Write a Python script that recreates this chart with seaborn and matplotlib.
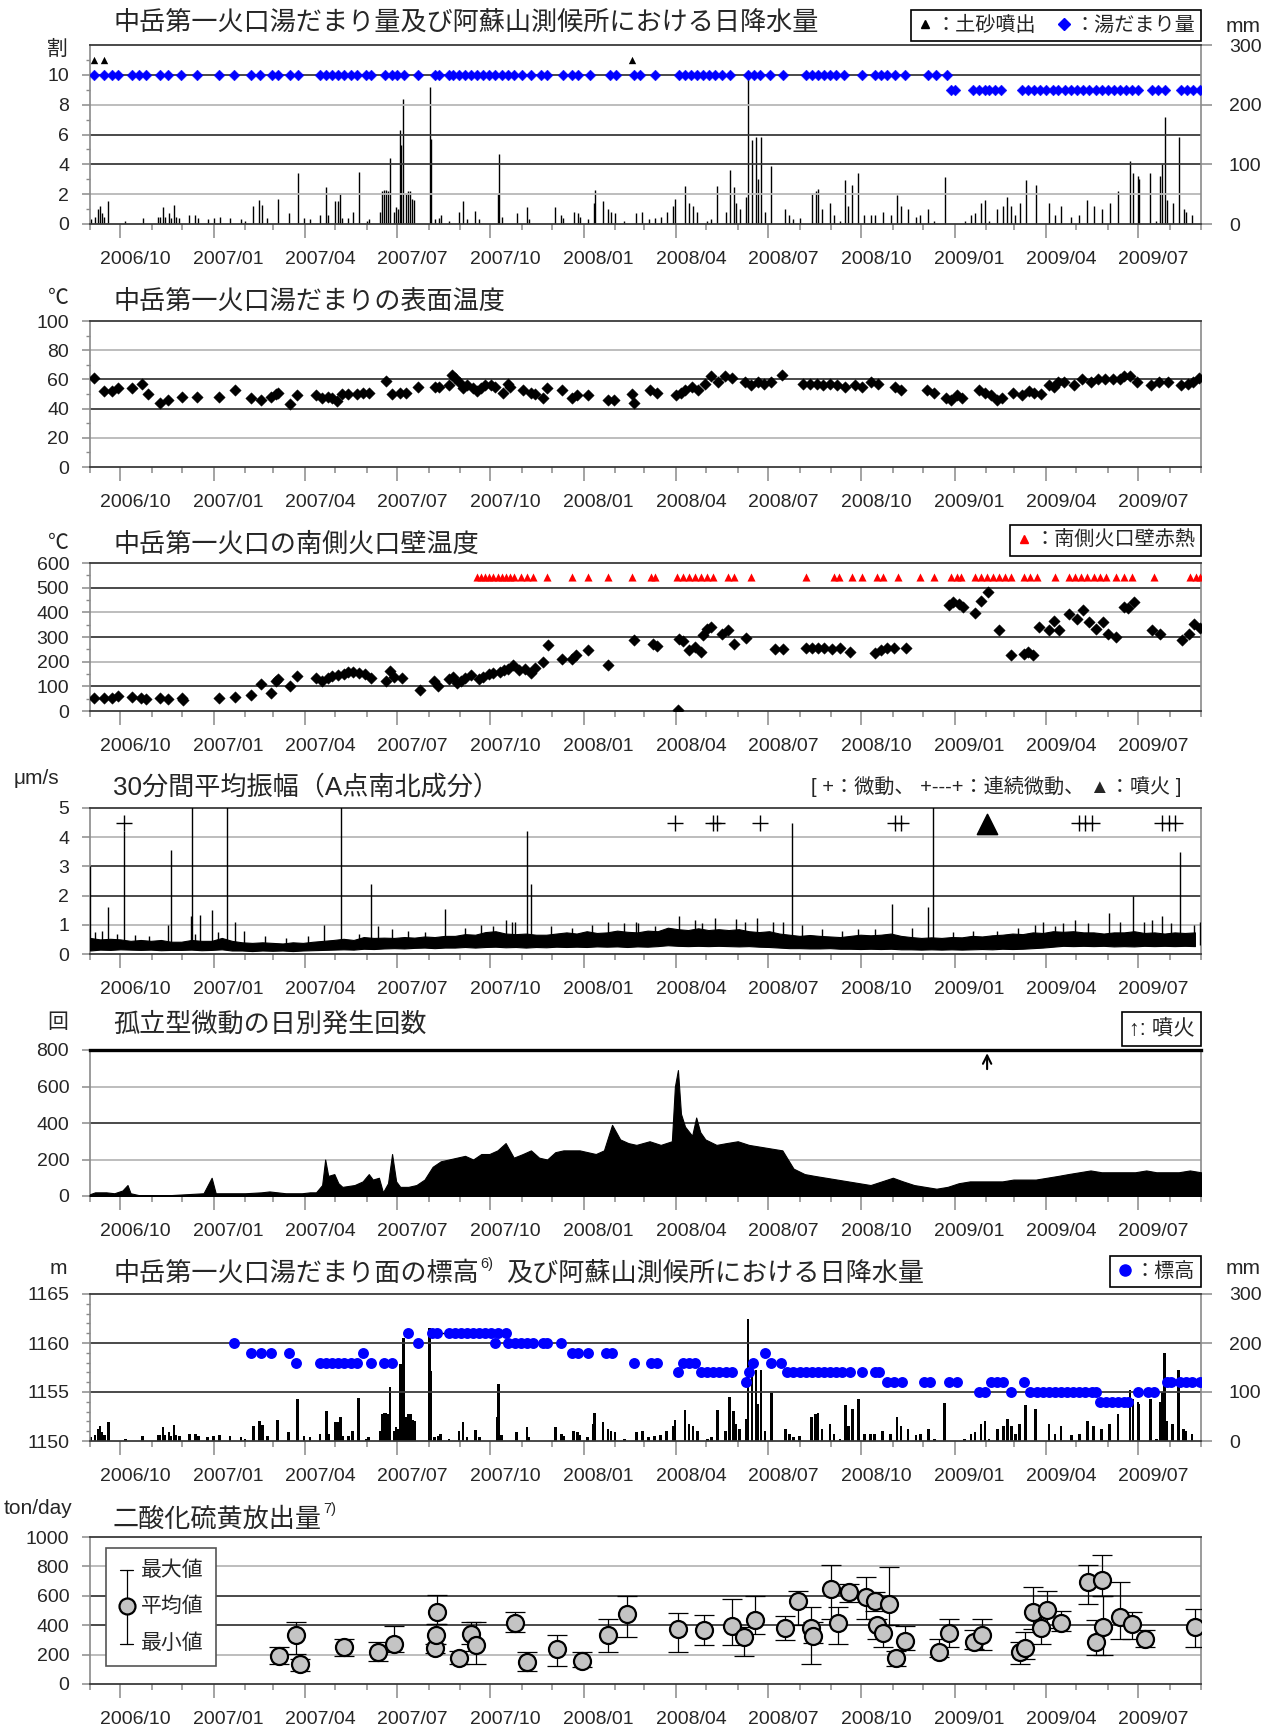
import numpy as np
import pandas as pd
import matplotlib
matplotlib.use("Agg")
import matplotlib.pyplot as plt
import matplotlib.dates as mdates
from matplotlib.lines import Line2D
from matplotlib.patches import Rectangle
from matplotlib.transforms import ScaledTranslation
import seaborn as sns

# All day numbers below are counted from 2006-09-01.

# Daily precipitation at the Aso observatory (day, mm)
rain = [(1, 8), (5, 12), (8, 25), (10, 30), (12, 18), (14, 12), (18, 38), (35, 5), (52, 10),
        (67, 12), (69, 12), (72, 28), (74, 12), (78, 18), (80, 10), (83, 32), (85, 12), (88, 10),
        (98, 15), (104, 15), (107, 10), (116, 8), (122, 10), (128, 12), (138, 10), (149, 8),
        (153, 5), (161, 30), (167, 40), (170, 32), (175, 10), (185, 42), (196, 18), (205, 85),
        (211, 10), (217, 8), (227, 15), (233, 62), (235, 15), (242, 38), (245, 38), (247, 50),
        (249, 10), (255, 10), (259, 20), (265, 87), (273, 5), (275, 8), (286, 20), (288, 55),
        (290, 57), (292, 57), (294, 55), (296, 110), (300, 20), (302, 28), (304, 25), (306, 157),
        (307, 132), (309, 210), (312, 50), (314, 55), (316, 55), (318, 42), (320, 40), (335, 230),
        (336, 143), (340, 8), (344, 10), (346, 15), (354, 5), (364, 20), (368, 38), (372, 8),
        (380, 22), (384, 8), (402, 50), (403, 117), (406, 12), (421, 18), (431, 28), (433, 8),
        (459, 28), (465, 15), (467, 10), (477, 20), (481, 18), (483, 12), (491, 8), (497, 35),
        (498, 57), (506, 38), (511, 25), (514, 20), (518, 18), (527, 5), (539, 18), (545, 20),
        (551, 8), (557, 10), (563, 12), (569, 20), (575, 30), (577, 42), (587, 63), (591, 35),
        (595, 30), (599, 20), (609, 5), (613, 8), (619, 63), (627, 20), (631, 90), (635, 62),
        (637, 35), (641, 25), (647, 45), (649, 250), (653, 140), (657, 145), (659, 75), (662, 145),
        (666, 20), (672, 97), (686, 25), (690, 15), (694, 8), (700, 10), (712, 50), (716, 55),
        (718, 58), (722, 25), (730, 35), (734, 15), (740, 5), (745, 73), (748, 30), (752, 65),
        (758, 85), (764, 15), (770, 15), (774, 15), (782, 20), (790, 15), (796, 48), (800, 30),
        (807, 25), (815, 12), (819, 15), (827, 25), (833, 5), (843, 78), (863, 5), (869, 15),
        (873, 18), (879, 35), (883, 40), (887, 5), (895, 25), (901, 30), (905, 45), (909, 30),
        (913, 15), (917, 35), (923, 73), (933, 65), (946, 35), (952, 15), (958, 30), (968, 12),
        (976, 15), (984, 40), (990, 30), (998, 25), (1006, 35), (1014, 55), (1026, 105),
        (1029, 85), (1034, 80), (1035, 75), (1046, 85), (1052, 5), (1056, 80), (1058, 100),
        (1060, 180), (1062, 40), (1068, 35), (1074, 145), (1079, 25), (1081, 20), (1087, 15)]

# Crater lake water amount (tenths of the full crater)
lake_day = [4, 14, 22, 28, 41, 48, 55, 69, 77, 90, 106, 127, 142, 159, 168, 180, 185, 197, 205, 227,
            233, 239, 245, 251, 257, 263, 272, 277, 291, 298, 303, 310, 324, 340, 344, 354, 358, 364,
            370, 376, 382, 388, 394, 400, 406, 412, 418, 426, 435, 445, 451, 467, 475, 481, 493, 513,
            519, 537, 543, 557, 581, 587, 593, 599, 605, 611, 617, 623, 631, 649, 655, 661, 671, 684,
            706, 712, 718, 724, 730, 736, 744, 762, 774, 780, 786, 794, 804, 827, 835, 845,
            849, 853, 871, 877, 883, 887, 893, 899, 919, 925, 931, 937, 943, 950, 955, 962, 968, 974,
            980, 986, 992, 998, 1004, 1010, 1016, 1022, 1028, 1034, 1048, 1054, 1060, 1076, 1082,
            1088, 1095]
lake_amount = [10] * 90 + [9] * 35
ejecta_day = [4, 14, 535]          # mud / sediment ejections

# Crater lake surface temperature (day, deg C)
surface_temp = [(4, 61), (14, 52), (22, 52), (28, 54), (41, 54), (51, 57), (57, 50), (69, 44), (77, 46),
                (91, 48), (106, 48), (127, 48), (143, 53), (159, 47), (169, 46), (179, 48), (183, 50),
                (185, 51), (197, 43), (204, 49), (223, 49), (229, 47), (235, 48), (239, 47), (244, 45),
                (249, 50), (255, 50), (263, 50), (269, 51), (275, 51), (292, 59), (298, 50), (306, 51),
                (312, 51), (324, 55), (340, 55), (344, 55), (354, 56), (357, 63), (360, 61), (364, 58),
                (368, 54), (372, 56), (378, 54), (382, 52), (386, 54), (390, 56), (396, 56), (400, 55),
                (407, 51), (412, 57), (414, 55), (427, 53), (435, 51), (439, 50), (447, 47), (451, 54),
                (466, 53), (475, 47), (480, 49), (491, 49), (511, 46), (517, 46), (535, 50), (537, 44),
                (552, 53), (559, 51), (578, 49), (583, 51), (587, 53), (594, 55), (600, 53), (607, 57),
                (613, 62), (620, 58), (626, 62), (633, 61), (646, 58), (652, 56), (659, 58), (665, 57),
                (672, 58), (683, 63), (703, 57), (710, 57), (717, 57), (723, 56), (730, 57), (737, 56),
                (745, 55), (755, 56), (762, 55), (770, 58), (777, 57), (794, 55), (800, 53), (826, 53),
                (833, 51), (844, 47), (849, 46), (855, 49), (860, 47), (877, 53), (883, 51), (889, 49),
                (895, 46), (900, 47), (911, 51), (919, 49), (926, 52), (931, 51), (938, 50), (946, 56),
                (951, 55), (955, 58), (961, 58), (971, 56), (979, 60), (987, 58), (994, 60), (1001, 60),
                (1009, 60), (1016, 60), (1020, 62), (1026, 62), (1033, 58), (1047, 56), (1055, 58),
                (1063, 58), (1076, 56), (1083, 57), (1088, 58), (1094, 61)]

# South crater wall temperature (day, deg C)
wall_temp = [(4, 53), (14, 54), (22, 54), (28, 61), (41, 57), (50, 53), (55, 47), (69, 54), (77, 50),
             (91, 53), (92, 43), (127, 53), (143, 57), (159, 66), (169, 109), (179, 71), (183, 121),
             (185, 129), (197, 100), (204, 141), (223, 132), (229, 121), (235, 132), (239, 141),
             (245, 147), (251, 152), (255, 159), (259, 159), (265, 155), (271, 152), (277, 132),
             (292, 121), (296, 163), (300, 138), (308, 134), (326, 87), (339, 121), (343, 100),
             (354, 128), (358, 138), (362, 114), (366, 121), (370, 132), (376, 145), (384, 128),
             (388, 138), (394, 148), (398, 156), (404, 159), (408, 166), (412, 172), (417, 186),
             (423, 166), (429, 172), (435, 155), (439, 175), (447, 200), (452, 267), (466, 210),
             (475, 212), (479, 227), (491, 247), (511, 186), (537, 288), (555, 273), (559, 264),
             (580, 5), (581, 293), (585, 282), (591, 246), (597, 259), (603, 239), (605, 307),
             (609, 334), (613, 340), (623, 313), (629, 327), (635, 273), (647, 296), (676, 250),
             (684, 250), (706, 255), (712, 255), (718, 255), (724, 255), (732, 253), (740, 255),
             (750, 239), (774, 235), (780, 246), (786, 255), (793, 255), (805, 255), (847, 428),
             (851, 442), (857, 435), (861, 422), (873, 399), (879, 446), (886, 484), (897, 327),
             (909, 226), (921, 232), (925, 239), (930, 226), (936, 340), (946, 327), (951, 363),
             (956, 327), (966, 394), (974, 374), (980, 408), (986, 360), (992, 334), (999, 360),
             (1004, 313), (1012, 300), (1020, 422), (1024, 418), (1030, 442), (1048, 327),
             (1056, 313), (1077, 286), (1084, 313), (1089, 354), (1095, 336)]
red_glow_day = [382, 386, 390, 394, 398, 402, 406, 410, 414, 418, 425, 431, 437, 451, 475, 491, 511,
                535, 553, 557, 579, 585, 591, 597, 603, 609, 615, 629, 635, 652, 706, 734, 739, 752,
                762, 776, 782, 797, 819, 833, 849, 855, 859, 873, 879, 885, 891, 897, 903, 909, 921,
                927, 934, 952, 966, 972, 978, 984, 990, 996, 1002, 1012, 1020, 1028, 1050, 1085,
                1091, 1095]

# 30-minute mean amplitude (station A, N-S): dense band sampled every 10 days, plus spikes
amp_day = np.arange(0, 1100, 10)
amp_upper = [0.55, 0.50, 0.52, 0.50, 0.45, 0.48, 0.45, 0.48, 0.42, 0.42, 0.48, 0.45,
             0.45, 0.55, 0.45, 0.40, 0.38, 0.40, 0.38, 0.36, 0.40, 0.38, 0.42, 0.45,
             0.48, 0.52, 0.48, 0.58, 0.55, 0.56, 0.55, 0.58, 0.56, 0.60, 0.58, 0.62,
             0.62, 0.68, 0.66, 0.75, 0.78, 0.70, 0.68, 0.70, 0.66, 0.66, 0.70, 0.74,
             0.70, 0.78, 0.72, 0.74, 0.80, 0.76, 0.74, 0.80, 0.78, 0.90, 0.85, 0.82,
             0.88, 0.82, 0.85, 0.82, 0.85, 0.78, 0.75, 0.78, 0.70, 0.66, 0.62, 0.65,
             0.62, 0.60, 0.58, 0.62, 0.66, 0.64, 0.66, 0.70, 0.62, 0.58, 0.55, 0.57,
             0.55, 0.58, 0.57, 0.62, 0.60, 0.64, 0.66, 0.70, 0.68, 0.74, 0.72, 0.78,
             0.76, 0.78, 0.74, 0.74, 0.70, 0.74, 0.74, 0.78, 0.72, 0.74, 0.70, 0.74,
             0.72, 0.74]
amp_lower = [0.12, 0.15, 0.14, 0.16, 0.15, 0.14, 0.15, 0.13, 0.14, 0.14, 0.15, 0.13,
             0.14, 0.16, 0.12, 0.12, 0.10, 0.12, 0.11, 0.12, 0.10, 0.12, 0.13, 0.14,
             0.15, 0.16, 0.15, 0.18, 0.17, 0.19, 0.20, 0.19, 0.21, 0.22, 0.20, 0.22,
             0.22, 0.24, 0.22, 0.24, 0.25, 0.23, 0.24, 0.22, 0.24, 0.23, 0.25, 0.24,
             0.25, 0.24, 0.26, 0.25, 0.26, 0.24, 0.26, 0.25, 0.27, 0.30, 0.28, 0.27,
             0.28, 0.27, 0.28, 0.27, 0.26, 0.27, 0.25, 0.24, 0.22, 0.20, 0.20, 0.19,
             0.19, 0.20, 0.18, 0.18, 0.17, 0.18, 0.17, 0.18, 0.16, 0.16, 0.15, 0.16,
             0.15, 0.16, 0.15, 0.16, 0.17, 0.16, 0.18, 0.17, 0.18, 0.20, 0.22, 0.25,
             0.28, 0.27, 0.28, 0.27, 0.28, 0.26, 0.27, 0.26, 0.28, 0.27, 0.28, 0.27,
             0.28, 0.27]
amp_spike = [(0, 3.0), (18, 1.6), (34, 4.2), (77, 1.0), (80, 3.55), (100, 1.3), (101, 5.5),
             (109, 1.35), (120, 1.5), (135, 5.5), (143, 1.1), (231, 1.0), (248, 5.5), (277, 2.4),
             (350, 1.55), (410, 1.15), (416, 1.1), (431, 4.2), (435, 2.4), (511, 1.1), (581, 1.3),
             (617, 1.25), (658, 1.25), (684, 1.1), (693, 4.5), (791, 1.7), (827, 1.6), (832, 5.5),
             (940, 1.1), (972, 1.15), (1005, 1.4), (1029, 2.0), (1048, 1.15), (1058, 1.3),
             (1075, 3.5), (1095, 1.1)]
# shorter bursts riding on top of the background band
amp_burst = [(5, 0.75), (12, 0.8), (27, 0.7), (44, 0.65), (58, 0.6), (104, 0.7), (126, 0.75),
             (152, 0.8), (173, 0.6), (193, 0.55), (215, 0.6), (265, 0.7), (284, 0.95), (298, 0.85),
             (314, 0.8), (330, 0.75), (370, 0.9), (386, 1.0), (398, 0.95), (419, 1.1), (455, 0.95),
             (475, 0.9), (495, 1.0), (527, 1.05), (539, 1.1), (541, 1.05), (557, 0.95), (597, 1.15),
             (604, 1.05), (637, 1.2), (646, 1.1), (674, 1.1), (702, 1.0), (722, 0.85), (742, 0.8),
             (758, 0.85), (774, 0.85), (811, 0.9), (851, 0.75), (871, 0.8), (895, 0.8), (915, 0.9),
             (932, 1.0), (952, 0.95), (960, 1.05), (985, 1.05), (1016, 1.1), (1040, 1.1),
             (1066, 1.05), (1089, 1.0)]
tremor_day = [34, 577, 615, 619, 661, 794, 800, 976, 982, 988, 1058, 1064, 1070]
eruption_date = "2009-02-02"

# Daily number of isolated tremors (day, count)
tremor_count = [(0, 10), (5, 20), (16, 20), (24, 15), (32, 30), (37, 60), (40, 15), (48, 5), (64, 5),
                (80, 5), (96, 10), (112, 15), (120, 100), (124, 15), (136, 15), (153, 15), (169, 20),
                (177, 25), (193, 15), (209, 15), (217, 20), (223, 20), (229, 60), (232, 200), (235, 110),
                (241, 120), (245, 70), (249, 50), (261, 60), (269, 80), (275, 120), (279, 90), (285, 100),
                (289, 20), (294, 70), (298, 230), (302, 80), (306, 50), (314, 50), (322, 60), (330, 90),
                (338, 160), (346, 190), (354, 200), (362, 210), (370, 220), (378, 200), (386, 230),
                (394, 230), (402, 250), (410, 290), (418, 210), (427, 230), (435, 250), (443, 210),
                (451, 200), (459, 240), (467, 250), (475, 250), (483, 250), (491, 240), (499, 230),
                (507, 250), (515, 390), (523, 310), (531, 290), (539, 280), (552, 300), (563, 280),
                (574, 300), (577, 600), (580, 690), (583, 450), (587, 380), (594, 330), (598, 430),
                (602, 350), (607, 310), (618, 280), (628, 290), (639, 300), (650, 280), (661, 270),
                (672, 260), (683, 250), (694, 150), (705, 120), (715, 110), (726, 100), (737, 90),
                (748, 80), (759, 70), (770, 60), (781, 80), (792, 100), (802, 80), (813, 60), (824, 50),
                (835, 40), (846, 50), (857, 70), (868, 80), (879, 80), (889, 80), (900, 80), (911, 90),
                (922, 90), (933, 90), (944, 100), (955, 110), (965, 120), (976, 130), (987, 140),
                (998, 130), (1009, 130), (1020, 130), (1031, 130), (1042, 140), (1052, 130),
                (1063, 130), (1074, 130), (1085, 140), (1096, 130)]

# Crater lake surface elevation (day, m)
lake_elev = [(142, 1160), (159, 1159), (169, 1159), (179, 1159), (196, 1159), (203, 1158), (227, 1158),
             (233, 1158), (239, 1158), (245, 1158), (251, 1158), (257, 1158), (263, 1158), (269, 1159),
             (277, 1158), (290, 1158), (298, 1158), (314, 1161), (324, 1160), (337, 1161), (342, 1161),
             (354, 1161), (360, 1161), (366, 1161), (372, 1161), (378, 1161), (384, 1161), (390, 1161),
             (396, 1161), (400, 1160), (402, 1161), (410, 1161), (412, 1160), (419, 1160), (425, 1160),
             (431, 1160), (437, 1160), (447, 1160), (451, 1160), (465, 1160), (475, 1159), (481, 1159),
             (491, 1159), (509, 1159), (515, 1159), (537, 1158), (553, 1158), (559, 1158), (580, 1157),
             (585, 1158), (591, 1158), (597, 1158), (603, 1157), (609, 1157), (615, 1157), (621, 1157),
             (627, 1157), (633, 1157), (647, 1156), (650, 1157), (654, 1158), (666, 1159), (672, 1158),
             (682, 1158), (688, 1157), (694, 1157), (700, 1157), (706, 1157), (712, 1157), (718, 1157),
             (724, 1157), (730, 1157), (736, 1157), (742, 1157), (750, 1157), (762, 1157), (774, 1157),
             (778, 1157), (786, 1156), (793, 1156), (801, 1156), (823, 1156), (829, 1156), (847, 1156),
             (855, 1156), (877, 1155), (883, 1155), (889, 1156), (895, 1156), (901, 1156), (909, 1155),
             (921, 1156), (927, 1155), (934, 1155), (940, 1155), (946, 1155), (952, 1155), (958, 1155),
             (964, 1155), (970, 1155), (976, 1155), (982, 1155), (988, 1155), (992, 1155), (996, 1154),
             (1002, 1154), (1008, 1154), (1014, 1154), (1020, 1154), (1024, 1154), (1034, 1155),
             (1044, 1155), (1050, 1155), (1062, 1156), (1066, 1156), (1075, 1156), (1081, 1156),
             (1087, 1156), (1095, 1156)]

# SO2 emission rate (ton/day): day, mean, max, min
so2_day = [186, 203, 207, 251, 284, 300, 340, 341, 342, 364, 376, 381, 419, 431, 461, 485, 511, 530,
           580, 606, 633, 645, 656, 686, 698, 711, 713, 731, 738, 749, 766, 774, 776, 782, 788, 795,
           804, 838, 847, 872, 880, 917, 922, 930, 938, 944, 958, 985, 992, 998, 999, 1016, 1028,
           1041, 1090]
so2_mean = [189, 330, 136, 250, 216, 273, 245, 330, 489, 175, 341, 266, 414, 152, 239, 159, 334, 477,
            375, 364, 393, 323, 436, 380, 568, 380, 325, 648, 414, 627, 591, 568, 398, 348, 545, 175,
            295, 220, 348, 289, 330, 216, 245, 489, 380, 505, 416, 693, 289, 709, 386, 459, 409, 307,
            386]
so2_max = [250, 425, 170, 307, 289, 393, 273, 409, 607, 227, 425, 425, 493, 216, 334, 216, 443, 602,
           482, 466, 580, 391, 602, 461, 636, 523, 420, 807, 523, 682, 727, 625, 443, 400, 795, 227,
           393, 307, 439, 364, 439, 284, 357, 659, 470, 632, 500, 807, 432, 880, 602, 693, 493, 364,
           507]
so2_min = [136, 205, 91, 193, 159, 216, 211, 273, 409, 136, 273, 136, 352, 91, 125, 114, 220, 318,
           220, 268, 268, 193, 341, 302, 398, 136, 280, 443, 273, 560, 443, 500, 307, 250, 398, 125,
           230, 182, 250, 239, 234, 136, 170, 375, 273, 384, 360, 545, 200, 602, 200, 307, 307, 250,
           250]

# ---------------------------------------------------------------------------
sns.set_theme(style="white")
plt.rcParams["font.family"] = ["Liberation Sans", "Noto Sans CJK JP", "DejaVu Sans"]
plt.rcParams["axes.unicode_minus"] = False

BASE = pd.Timestamp("2006-09-01")
END = pd.Timestamp("2009-09-01")


def on_days(days):
    return BASE + pd.to_timedelta(np.asarray(days, dtype=float), unit="D")


def split(pairs):
    a, b = zip(*pairs)
    return np.array(a), np.array(b)


W, H = 1268, 1727
fig = plt.figure(figsize=(W / 100, H / 100), dpi=100)
fig.patch.set_facecolor("white")
L_PX, R_PX = 90, 1201
DARK, LIGHT, FRAME = "#3a3a3a", "#b8b8b8", "#8a8a8a"
TICK_FS, TITLE_FS, UNIT_FS, LEG_FS = 14, 18.8, 15, 14.5


def add_panel(top, bottom):
    return fig.add_axes([L_PX / W, 1 - bottom / H, (R_PX - L_PX) / W, (bottom - top) / H])


def ftext(x, y, s, **kw):
    kw.setdefault("va", "center")
    return fig.text(x / W, 1 - y / H, s, **kw)


def style_panel(ax, ylim, yticks, yminor=None, dark=(), light=()):
    ax.set_xlim(BASE, END)
    ax.set_ylim(*ylim)
    ax.set_yticks(yticks)
    if yminor is not None:
        ax.set_yticks(yminor, minor=True)
    for v in dark:
        ax.axhline(v, color=DARK, lw=1.3, zorder=0.5)
    for v in light:
        ax.axhline(v, color=LIGHT, lw=1.3, zorder=0.5)
    for side in ("left", "right"):
        ax.spines[side].set_color(FRAME)
        ax.spines[side].set_linewidth(1.2)
    for side in ("top", "bottom"):
        ax.spines[side].set_color(DARK)
        ax.spines[side].set_linewidth(1.3)
    ax.xaxis.set_major_locator(mdates.MonthLocator(bymonth=[1, 4, 7, 10]))
    ax.xaxis.set_minor_locator(mdates.MonthLocator())
    ax.xaxis.set_major_formatter(mdates.DateFormatter("%Y/%m"))
    ax.tick_params(axis="x", which="major", bottom=True, direction="out", length=10, width=1.1,
                   color=FRAME, pad=9.5, labelsize=TICK_FS)
    ax.tick_params(axis="x", which="minor", bottom=True, direction="out", length=4, width=1.1,
                   color=FRAME)
    ax.tick_params(axis="y", which="major", left=True, direction="out", length=6, width=1.1,
                   color=FRAME, pad=9, labelsize=TICK_FS)
    ax.tick_params(axis="y", which="minor", left=True, direction="out", length=3, width=1.0,
                   color=FRAME)
    shift = ScaledTranslation(15 / 100, 0, fig.dpi_scale_trans)
    for lab in ax.get_xticklabels():
        lab.set_transform(lab.get_transform() + shift)
    ax.set_xlabel("")
    ax.set_ylabel("")


def style_right(axr, ylim, yticks):
    axr.set_ylim(*ylim)
    axr.set_yticks(yticks)
    for s in axr.spines.values():
        s.set_visible(False)
    axr.tick_params(axis="y", which="major", right=True, direction="out", length=8, width=1.1,
                    color=FRAME, pad=12, labelsize=TICK_FS)
    axr.set_ylabel("")


def box_legend(ax, handles, labels, anchor_y, **kw):
    leg = ax.legend(handles, labels, loc="lower right", bbox_to_anchor=(1.0, anchor_y),
                    frameon=True, fancybox=False, edgecolor="black", framealpha=1,
                    fontsize=LEG_FS, handlelength=0.8, handletextpad=0.1, columnspacing=1.0,
                    borderpad=0.3, borderaxespad=0, **kw)
    leg.get_frame().set_linewidth(1.2)
    return leg


def title(y, s):
    return ftext(113, y, s, fontsize=TITLE_FS)


rain_day, rain_mm = split(rain)

# ---- 1: crater lake amount and daily precipitation ----
ax1 = add_panel(45, 224)
ax1r = ax1.twinx()
ax1r.vlines(on_days(rain_day), 0, rain_mm, color="black", lw=1.0)
sns.scatterplot(x=on_days(lake_day), y=lake_amount, marker="D", s=30, color="#0000ff",
                edgecolor="#0000ff", linewidth=0.3, ax=ax1, legend=False, zorder=4)
sns.scatterplot(x=on_days(ejecta_day), y=np.full(len(ejecta_day), 11.0), marker="^", s=28,
                color="black", edgecolor="black", linewidth=0, ax=ax1, legend=False, zorder=4)
style_panel(ax1, (0, 12), range(0, 11, 2), range(1, 12, 2), dark=(4, 6, 10), light=(2, 8))
style_right(ax1r, (0, 300), [0, 100, 200, 300])
ax1.set_zorder(ax1r.get_zorder() + 1)
ax1.patch.set_visible(False)
box_legend(ax1, [Line2D([], [], marker="^", ls="", color="black", ms=6),
                 Line2D([], [], marker="D", ls="", color="#0000ff", ms=6)],
           ["：土砂噴出", "：湯だまり量"], 1.02, ncol=2)
title(23, "中岳第一火口湯だまり量及び阿蘇山測候所における日降水量")
ftext(57, 49, "割", fontsize=UNIT_FS, ha="center")
ftext(1243, 27, "mm", fontsize=UNIT_FS, ha="center")

# ---- 2: crater lake surface temperature ----
ax2 = add_panel(321, 467)
sd, sv = split(surface_temp)
sns.scatterplot(x=on_days(sd), y=sv, marker="D", s=34, color="black", edgecolor="black",
                linewidth=0.3, ax=ax2, legend=False, zorder=4)
style_panel(ax2, (0, 100), range(0, 101, 20), range(10, 100, 20), dark=(40, 60), light=(20, 80))
title(302, "中岳第一火口湯だまりの表面温度")
ftext(58, 298, "℃", fontsize=UNIT_FS, ha="center")

# ---- 3: south crater wall temperature ----
ax3 = add_panel(563, 711)
wd, wv = split(wall_temp)
sns.scatterplot(x=on_days(wd), y=wv, marker="D", s=34, color="black", edgecolor="black",
                linewidth=0.3, ax=ax3, legend=False, zorder=4)
sns.scatterplot(x=on_days(red_glow_day), y=np.full(len(red_glow_day), 545.0), marker="^", s=34,
                color="#ff0000", edgecolor="#ff0000", linewidth=0, ax=ax3, legend=False, zorder=4)
style_panel(ax3, (0, 600), range(0, 601, 100), range(50, 600, 100), dark=(100, 300, 500),
            light=(200, 400))
box_legend(ax3, [Line2D([], [], marker="^", ls="", color="#ff0000", ms=6)], ["：南側火口壁赤熱"], 1.045)
title(545, "中岳第一火口の南側火口壁温度")
ftext(58, 543, "℃", fontsize=UNIT_FS, ha="center")

# ---- 4: 30-minute mean amplitude ----
ax4 = add_panel(808, 954)
ax4.fill_between(on_days(amp_day), amp_lower, amp_upper, color="black", lw=0.8, zorder=3)
bd, bv = split(amp_burst)
ax4.vlines(on_days(bd), 0.3, bv, color="black", lw=1.0, zorder=3)
kd, kv = split(amp_spike)
ax4.vlines(on_days(kd), 0.3, kv, color="black", lw=1.0, zorder=3)
ax4.scatter(on_days(tremor_day), np.full(len(tremor_day), 4.5), marker="+", s=120, color="black",
            linewidths=1.0, zorder=4)
sns.scatterplot(x=pd.to_datetime([eruption_date]), y=[4.45], marker="^", s=210, color="black",
                edgecolor="black", ax=ax4, legend=False, zorder=4)
style_panel(ax4, (0, 5), range(0, 6), None, dark=(2, 3), light=(1, 4))
title(787, "30分間平均振幅（A点南北成分）")
ftext(36, 779, "μm/s", fontsize=UNIT_FS, ha="center")
ftext(1181, 786, "[ +：微動、 +---+：連続微動、 ▲：噴火 ]", fontsize=14.5, ha="right")

# ---- 5: daily number of isolated tremors ----
ax5 = add_panel(1050, 1196)
cd, cv = split(tremor_count)
ax5.fill_between(on_days(cd), 0, cv, color="black", lw=0.8, zorder=3)
ax5.annotate("", xy=(pd.Timestamp(eruption_date), 798), xytext=(pd.Timestamp(eruption_date), 680),
             arrowprops=dict(arrowstyle="->", color="black", lw=1.5, mutation_scale=15), zorder=5)
style_panel(ax5, (0, 800), range(0, 801, 200), None, dark=(400,), light=(200, 600))
ax5.spines["top"].set_linewidth(2.4)
ax5.spines["top"].set_color("black")
ax5.text(0.994, 1.075, "↑: 噴火", transform=ax5.transAxes, ha="right", va="bottom", fontsize=15.5,
         bbox=dict(boxstyle="square,pad=0.3", fc="white", ec="black", lw=1.2))
title(1024, "孤立型微動の日別発生回数")
ftext(58, 1023, "回", fontsize=UNIT_FS, ha="center")

# ---- 6: crater lake surface elevation and daily precipitation ----
ax6 = add_panel(1294, 1441)
ax6r = ax6.twinx()
ax6r.bar(on_days(rain_day), rain_mm, width=2.6, color="black", lw=0)
ed, ev = split(lake_elev)
run = (ed >= 337) & (ed <= 410) & (ev == 1161)
ax6.plot(on_days(ed[run]), ev[run], color="black", lw=1.0, zorder=3)
sns.scatterplot(x=on_days(ed), y=ev, marker="o", s=62, color="#0000ff", edgecolor="#0000ff",
                linewidth=0, ax=ax6, legend=False, zorder=4)
style_panel(ax6, (1150, 1165), [1150, 1155, 1160, 1165], range(1151, 1165), dark=(1155, 1160))
style_right(ax6r, (0, 300), [0, 100, 200, 300])
ax6.set_zorder(ax6r.get_zorder() + 1)
ax6.patch.set_visible(False)
box_legend(ax6, [Line2D([], [], marker="o", ls="", color="#0000ff", ms=8)], ["：標高"], 1.045)
t6 = title(1274, "中岳第一火口湯だまり面の標高")
ax6.annotate("6)", xy=(1, 0.62), xycoords=t6, xytext=(1, 0), textcoords="offset points",
             fontsize=10.5, va="bottom", ha="left")
ax6.annotate("及び阿蘇山測候所における日降水量", xy=(1, 0.5), xycoords=t6, xytext=(20, 0),
             textcoords="offset points", fontsize=TITLE_FS, va="center", ha="left")
ftext(58, 1268, "m", fontsize=UNIT_FS, ha="center")
ftext(1243, 1268, "mm", fontsize=UNIT_FS, ha="center")

# ---- 7: SO2 emission rate ----
ax7 = add_panel(1537, 1684)
so2_mean_a, so2_max_a, so2_min_a = map(np.array, (so2_mean, so2_max, so2_min))
ax7.errorbar(on_days(so2_day), so2_mean_a, yerr=[so2_mean_a - so2_min_a, so2_max_a - so2_mean_a],
             fmt="none", ecolor="black", elinewidth=0.9, capsize=7, capthick=0.9, zorder=3)
sns.scatterplot(x=on_days(so2_day), y=so2_mean_a, marker="o", s=150, color="#c4c4c4",
                edgecolor="black", linewidth=1.6, ax=ax7, legend=False, zorder=4)
style_panel(ax7, (0, 1000), range(0, 1001, 200), None, dark=(400, 600), light=(200, 800))
ax7.add_patch(Rectangle((0.014, 0.125), 0.099, 0.8, transform=ax7.transAxes, fc="white",
                        ec="#555555", lw=1.2, zorder=6))
gx = 0.033
ax7.add_line(Line2D([gx, gx], [0.274, 0.776], transform=ax7.transAxes, color="black", lw=0.9, zorder=7))
for yy in (0.274, 0.776):
    ax7.add_line(Line2D([gx - 0.006, gx + 0.006], [yy, yy], transform=ax7.transAxes, color="black",
                        lw=0.9, zorder=7))
ax7.add_line(Line2D([gx], [0.532], transform=ax7.transAxes, marker="o", ms=11.5, mfc="#c4c4c4",
                    mec="black", mew=1.6, ls="", zorder=8))
for yy, lab in ((0.776, "最大値"), (0.532, "平均値"), (0.274, "最小値")):
    ax7.text(0.046, yy, lab, transform=ax7.transAxes, fontsize=15, va="center", ha="left", zorder=8)
t7 = title(1519, "二酸化硫黄放出量")
ax7.annotate("7)", xy=(1, 0.62), xycoords=t7, xytext=(1, 0), textcoords="offset points",
             fontsize=10.5, va="bottom", ha="left")
ftext(38, 1509, "ton/day", fontsize=UNIT_FS, ha="center")

fig.savefig("out.png", dpi=100, facecolor="white")
